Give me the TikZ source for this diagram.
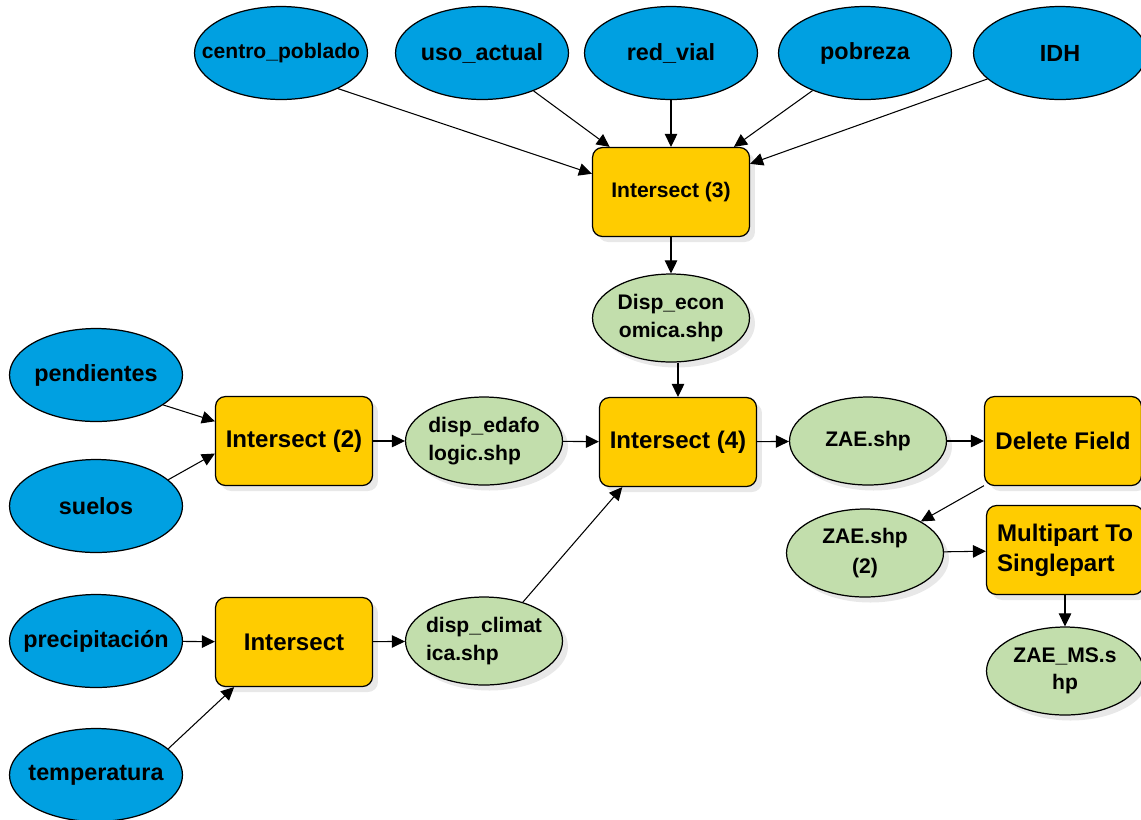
\documentclass[tikz,border=0pt]{standalone}
\usepackage{fontspec}
\setmainfont{Liberation Sans}
\usetikzlibrary{shapes.geometric,shadows,arrows.meta}
\definecolor{layerblue}{RGB}{0,160,225}
\definecolor{toolyellow}{RGB}{255,204,0}
\definecolor{datagreen}{RGB}{194,222,172}

\begin{document}
\begin{tikzpicture}[x=0.02cm,y=-0.02cm,
  layer/.style={ellipse,draw,fill=layerblue,line width=0.7pt,inner xsep=-0.4cm,inner ysep=0pt,
    minimum width=3.46cm,minimum height=1.86cm,font=\fontsize{13.3}{16}\selectfont\bfseries},
  tool/.style={rectangle,rounded corners=0.2cm,draw,fill=toolyellow,line width=0.7pt,inner sep=0pt,
    minimum width=3.14cm,minimum height=1.78cm,font=\fontsize{13.7}{17}\selectfont\bfseries,
    drop shadow={shadow xshift=0.11cm,shadow yshift=-0.11cm,fill=black!18}},
  result/.style={ellipse,draw,fill=datagreen,line width=0.7pt,inner xsep=-0.3cm,inner ysep=0pt,
    minimum width=3.14cm,minimum height=1.76cm,font=\fontsize{12}{15.5}\selectfont\bfseries,
    drop shadow={shadow xshift=0.11cm,shadow yshift=-0.11cm,fill=black!18}},
  link/.style={-{Triangle[length=0.26cm,width=0.25cm]},line width=0.6pt}]
  \useasboundingbox (0,0) rectangle (1141,819);

  % Economic inputs
  \node[layer,font=\fontsize{12}{15}\selectfont\bfseries] (centro) at (281,53) {centro\_poblado};
  \node[layer] (uso) at (482,53) {uso\_actual};
  \node[layer] (red) at (671,53) {red\_vial};
  \node[layer] (pobreza) at (865,53) {pobreza};
  \node[layer] (idh) at (1060,53) {IDH};
  \node[tool,font=\fontsize{12}{15}\selectfont\bfseries] (int3) at (671,192) {Intersect (3)};
  \node[result,align=center] (econ) at (671,318) {Disp\_econ\\omica.shp};

  % Soil inputs
  \node[layer] (pend) at (96,375) {pendientes};
  \node[layer] (suelos) at (96,506) {suelos};
  \node[tool] (int2) at (294,441) {Intersect (2)};
  \node[result,align=left] (edafo) at (484,441) {disp\_edafo\\logic.shp};

  % Climate inputs
  \node[layer] (precip) at (96,641) {precipitación};
  \node[layer] (temp) at (96,775) {temperatura};
  \node[tool] (int1) at (294,642) {Intersect};
  \node[result,align=left] (clima) at (484,641) {disp\_climat\\ica.shp};

  % Final steps
  \node[tool] (int4) at (678,442) {Intersect (4)};
  \node[result] (zae) at (868,441) {ZAE.shp};
  \node[tool] (delf) at (1063,441) {Delete Field};
  \node[result,align=center] (zae2) at (865,553) {ZAE.shp\\[2pt](2)};
  \node[tool,align=left] (multi) at (1065,550) {Multipart To\\Singlepart};
  \node[result,align=center] (zaems) at (1065,671) {ZAE\_MS.s\\hp};

  % Connectors
  \draw[link] (centro.-32) -- (int3.167);
  \draw[link] (uso) -- (int3);
  \draw[link] (red) -- (int3);
  \draw[link] (pobreza) -- (int3);
  \draw[link] (idh) -- (int3);
  \draw[link] (int3) -- (econ);
  \draw[link] (econ.south -| int4.north) -- (int4.north);
  \draw[link] (pend.-24) -- (int2.166);
  \draw[link] (suelos.20) -- (int2.189);
  \draw[link] (int2) -- (edafo);
  \draw[link] (edafo) -- (int4);
  \draw[link] (precip) -- (int1);
  \draw[link] (temp.20) -- (int1.217);
  \draw[link] (int1) -- (clima);
  \draw[link] (clima.45) -- (int4.219);
  \draw[link] (int4) -- (zae);
  \draw[link] (zae) -- (delf);
  \draw[link] (delf) -- (zae2);
  \draw[link] (zae2) -- (multi);
  \draw[link] (multi) -- (zaems);
\end{tikzpicture}
\end{document}
